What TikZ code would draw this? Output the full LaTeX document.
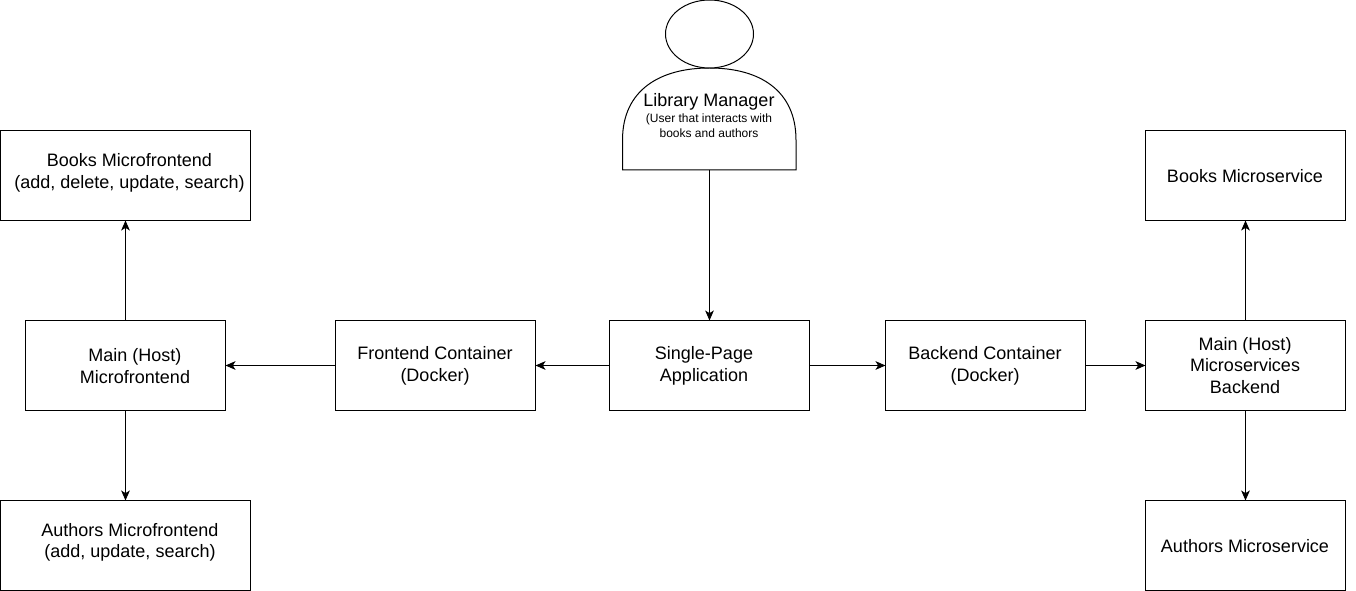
\documentclass[tikz,border=0pt]{standalone}
\usepackage{fontspec}
\setmainfont{Liberation Sans}
\usetikzlibrary{arrows.meta,shapes.geometric}
\tikzset{
  x=0.75pt,y=-0.75pt,
  boxn/.style={draw=black,line width=0.75pt,fill=white,minimum height=67.5pt,inner sep=0pt,outer sep=0pt},
  widem/.style={boxn,minimum width=150pt},
  widel/.style={boxn,minimum width=187.5pt},
  lbl/.style={align=center,font=\fontsize{13.5}{16.2}\selectfont,inner sep=0pt,text=black},
  small/.style={align=center,font=\fontsize{9}{11}\selectfont,inner sep=0pt,text=black},
  conn/.style={draw=black,line width=0.75pt,-{Stealth[length=7.5pt,width=6.5pt,inset=2pt]}},
  actorline/.style={draw=black,line width=0.75pt,fill=white,line join=miter}
}
\begin{document}
\begin{tikzpicture}
\useasboundingbox (0,0) rectangle (1356,591);
% boxes
\node[widel] (booksf) at (125.5,175.5) {};
\node[widel] (authf) at (125.5,545.5) {};
\node[widem] (mainf) at (125.5,365.5) {};
\node[widem] (front) at (435.5,365.5) {};
\node[widem] (spa) at (709.5,365.5) {};
\node[widem] (back) at (985.5,365.5) {};
\node[widem] (mainb) at (1245.5,365.5) {};
\node[widem] (booksb) at (1245.5,175.5) {};
\node[widem] (authb) at (1245.5,545.5) {};
% actor
\draw[actorline] (622.5,170) -- (622.5,140)
  .. controls (622.5,90) and (660,68) .. (709.5,68)
  .. controls (759,68) and (796,90) .. (796,140) -- (796,170) -- cycle;
\node[draw=black,line width=0.75pt,fill=white,ellipse,minimum width=66pt,minimum height=51pt,inner sep=0pt,outer sep=0pt] (head) at (709.5,34) {};
\node[minimum width=130pt,minimum height=76.5pt,inner sep=0pt,outer sep=0pt] (mgr) at (709.5,119) {};
% labels
\node[lbl] (tmgr) at (709,102) {Library Manager};
\node[small] (tmgrs) at (709,126) {(User that interacts with\\books and authors};
\node[lbl] (t1) at (129.5,173) {Books Microfrontend\\(add, delete, update, search)};
\node[lbl] (t2) at (130,542.5) {Authors Microfrontend\\(add, update, search)};
\node[lbl] (t3) at (135,366) {Main (Host)\\Microfrontend};
\node[lbl] (t4) at (435,366) {Frontend Container\\(Docker)};
\node[lbl] (t5) at (704,366) {Single-Page\\Application};
\node[lbl] (t6) at (985,366) {Backend Container\\(Docker)};
\node[lbl] (t7) at (1245,365.5) {Main (Host)\\Microservices\\Backend};
\node[lbl] (t8) at (1245,176) {Books Microservice};
\node[lbl] (t9) at (1245,546) {Authors Microservice};
% connectors
\draw[conn] (mgr.south) -- (spa.north);
\draw[conn] (spa.west) -- (front.east);
\draw[conn] (front.west) -- (mainf.east);
\draw[conn] (mainf.north) -- (booksf.south);
\draw[conn] (mainf.south) -- (authf.north);
\draw[conn] (spa.east) -- (back.west);
\draw[conn] (back.east) -- (mainb.west);
\draw[conn] (mainb.north) -- (booksb.south);
\draw[conn] (mainb.south) -- (authb.north);
\end{tikzpicture}
\end{document}
